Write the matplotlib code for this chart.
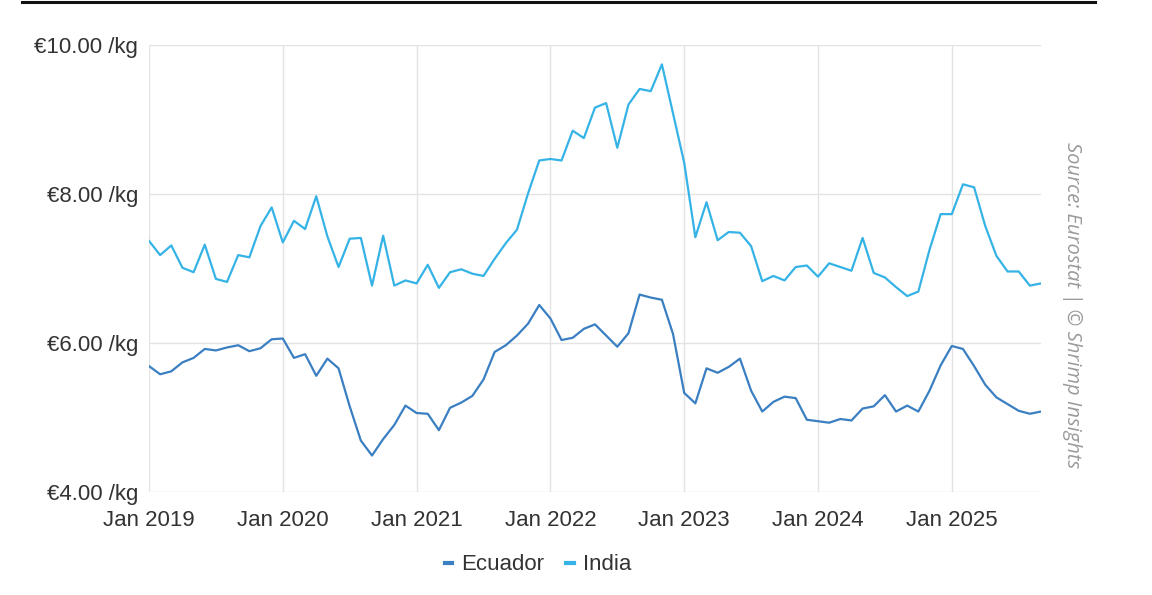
import matplotlib
matplotlib.use("Agg")
import matplotlib.pyplot as plt
from matplotlib.lines import Line2D
import numpy as np

# Monthly prices Jan 2019 .. Sep 2025 (EUR/kg)
months = [f"{y}-{m:02d}" for y in range(2019, 2026) for m in range(1, 13)][:81]

india = [7.37, 7.18, 7.31, 7.01, 6.95, 7.32, 6.86, 6.82, 7.18, 7.15, 7.57, 7.82,
         7.35, 7.64, 7.53, 7.97, 7.43, 7.02, 7.40, 7.41, 6.77, 7.44, 6.77, 6.84,
         6.80, 7.05, 6.74, 6.95, 6.99, 6.93, 6.90, 7.13, 7.34, 7.52, 8.01, 8.45,
         8.47, 8.45, 8.85, 8.75, 9.16, 9.22, 8.62, 9.20, 9.41, 9.38, 9.74, 9.08,
         8.42, 7.42, 7.89, 7.38, 7.49, 7.48, 7.30, 6.83, 6.90, 6.84, 7.02, 7.04,
         6.89, 7.07, 7.02, 6.97, 7.41, 6.94, 6.88, 6.75, 6.63, 6.69, 7.25, 7.73,
         7.73, 8.13, 8.09, 7.57, 7.17, 6.96, 6.96, 6.77, 6.80]

ecuador = [5.69, 5.58, 5.62, 5.74, 5.80, 5.92, 5.90, 5.94, 5.97, 5.89, 5.93, 6.05,
           6.06, 5.80, 5.85, 5.56, 5.79, 5.66, 5.15, 4.69, 4.49, 4.71, 4.90, 5.16,
           5.06, 5.05, 4.83, 5.13, 5.20, 5.29, 5.51, 5.88, 5.97, 6.10, 6.26, 6.51,
           6.33, 6.04, 6.07, 6.19, 6.25, 6.10, 5.95, 6.13, 6.65, 6.61, 6.58, 6.12,
           5.33, 5.19, 5.66, 5.60, 5.68, 5.79, 5.36, 5.08, 5.21, 5.28, 5.26, 4.97,
           4.95, 4.93, 4.98, 4.96, 5.12, 5.15, 5.30, 5.08, 5.16, 5.08, 5.36, 5.70,
           5.96, 5.92, 5.69, 5.44, 5.27, 5.18, 5.09, 5.05, 5.08]

year_labels = ["Jan 2019", "Jan 2020", "Jan 2021", "Jan 2022", "Jan 2023", "Jan 2024", "Jan 2025"]
y_ticks = [4, 6, 8, 10]
y_labels = ["€4.00 /kg", "€6.00 /kg", "€8.00 /kg", "€10.00 /kg"]

plt.rcParams['font.family'] = ['Liberation Sans', 'DejaVu Sans']

fig = plt.figure(figsize=(11.52, 5.95), dpi=100)
ax = fig.add_axes([149/1152, 1 - 492/595, (1041 - 149)/1152, (492 - 45)/595])

x = np.arange(len(months))
c_ecu = "#3a7fc2"
c_ind = "#36b3e6"
ax.plot(x, ecuador, color=c_ecu, lw=1.6, solid_joinstyle='round')
ax.plot(x, india, color=c_ind, lw=1.6, solid_joinstyle='round')

ax.set_xlim(0, len(months) - 1)
ax.set_ylim(4, 10)
ax.set_xticks(np.arange(0, len(months), 12))
ax.set_xticklabels(year_labels)
ax.set_yticks(y_ticks)
ax.set_yticklabels(y_labels)
ax.tick_params(axis='both', length=0, labelsize=16, colors="#333333")
ax.tick_params(axis='y', pad=8)
ax.tick_params(axis='x', pad=13)
for s in ax.spines.values():
    s.set_visible(False)
ax.grid(True, color="#e3e3e3", lw=1.0)
ax.set_axisbelow(True)

handles = [Line2D([0], [0], color=c_ecu, lw=3),
           Line2D([0], [0], color=c_ind, lw=3)]
leg = fig.legend(handles, ["Ecuador", "India"], loc="center", bbox_to_anchor=(0.467, 1 - 565/595),
                 ncol=2, frameon=False, fontsize=16, handlelength=0.35, handletextpad=0.4,
                 columnspacing=1.0)
for t in leg.get_texts():
    t.set_color("#333333")

fig.text(1072/1152, 1 - 305/595, "Source: Eurostat | © Shrimp Insights", rotation=-90,
         ha="center", va="center", fontsize=14.5, style="italic", color="#9a9a9a",
         family=["Open Sans", "DejaVu Sans"])

fig.add_artist(Line2D([22/1152, 1095/1152], [1 - 2/595, 1 - 2/595], color="#111111", lw=2.2,
                      transform=fig.transFigure))

fig.savefig("out.png", dpi=100, facecolor="white")
